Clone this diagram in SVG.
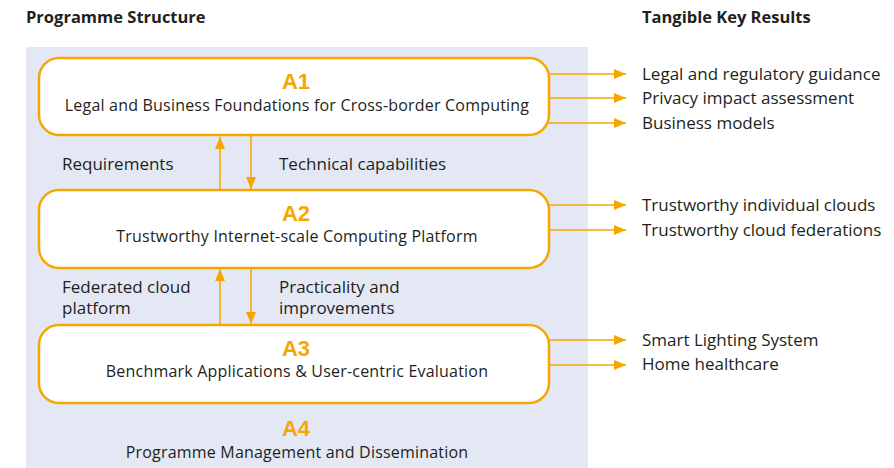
<svg xmlns="http://www.w3.org/2000/svg" width="894" height="468" viewBox="0 0 894 468">
<style>
text{font-family:"Open Sans","Liberation Sans",sans-serif;fill:#231f20}
.h{font-weight:bold;font-size:16.5px}
.t{font-family:"Liberation Sans",Arial,sans-serif;font-weight:bold;font-size:22px;fill:#f5a700;text-anchor:middle}
.s{font-size:16px;letter-spacing:0.2px;text-anchor:middle}
.l{font-size:17px}
.box{fill:#fff;stroke:#f5a700;stroke-width:2.5}
.c{stroke:#f5a700;stroke-width:1.6;fill:none}
</style>
<defs>
<marker id="ah" viewBox="0 0 12 10" refX="12" refY="5" markerWidth="12" markerHeight="10" markerUnits="userSpaceOnUse" orient="auto">
<path d="M0,0L12,5L0,10Z" fill="#f5a700"/>
</marker>
</defs>
<rect x="26" y="47" width="562" height="421" fill="#e4e8f4"/>
<text class="h" x="26" y="23">Programme Structure</text>
<text class="h" x="642" y="23">Tangible Key Results</text>
<g id="connectors">
<path class="c" d="M220,190V137" marker-end="url(#ah)"/>
<path class="c" d="M251,136V189" marker-end="url(#ah)"/>
<path class="c" d="M220,325V269" marker-end="url(#ah)"/>
<path class="c" d="M251,269V324" marker-end="url(#ah)"/>
<path class="c" d="M549,74H626" marker-end="url(#ah)"/>
<path class="c" d="M549,98H626" marker-end="url(#ah)"/>
<path class="c" d="M549,123H626" marker-end="url(#ah)"/>
<path class="c" d="M549,205H626" marker-end="url(#ah)"/>
<path class="c" d="M549,230H626" marker-end="url(#ah)"/>
<path class="c" d="M549,340H626" marker-end="url(#ah)"/>
<path class="c" d="M549,365H626" marker-end="url(#ah)"/>
<text class="l" x="62" y="170">Requirements</text>
<text class="l" x="279" y="170">Technical capabilities</text>
<text class="l" x="62" y="293">Federated cloud</text>
<text class="l" x="62" y="314">platform</text>
<text class="l" x="279" y="293">Practicality and</text>
<text class="l" x="279" y="314">improvements</text>
</g>
<g id="A1">
<rect class="box" x="39" y="58" width="510" height="77" rx="20"/>
<text class="t" x="296" y="88.5">A1</text>
<text class="s" x="297" y="111">Legal and Business Foundations for Cross-border Computing</text>
</g>
<g id="A2">
<rect class="box" x="39" y="190" width="510" height="78" rx="20"/>
<text class="t" x="296" y="220.5">A2</text>
<text class="s" x="297" y="242">Trustworthy Internet-scale Computing Platform</text>
</g>
<g id="A3">
<rect class="box" x="39" y="325" width="510" height="78" rx="20"/>
<text class="t" x="296" y="355.5">A3</text>
<text class="s" x="297" y="377">Benchmark Applications &amp; User-centric Evaluation</text>
</g>
<g id="A4">
<text class="t" x="296" y="436">A4</text>
<text class="s" x="297" y="458">Programme Management and Dissemination</text>
</g>
<g id="results">
<text class="l" x="642" y="80">Legal and regulatory guidance</text>
<text class="l" x="642" y="104">Privacy impact assessment</text>
<text class="l" x="642" y="129">Business models</text>
<text class="l" x="642" y="211">Trustworthy individual clouds</text>
<text class="l" x="642" y="236">Trustworthy cloud federations</text>
<text class="l" x="642" y="346">Smart Lighting System</text>
<text class="l" x="642" y="370">Home healthcare</text>
</g>
</svg>
